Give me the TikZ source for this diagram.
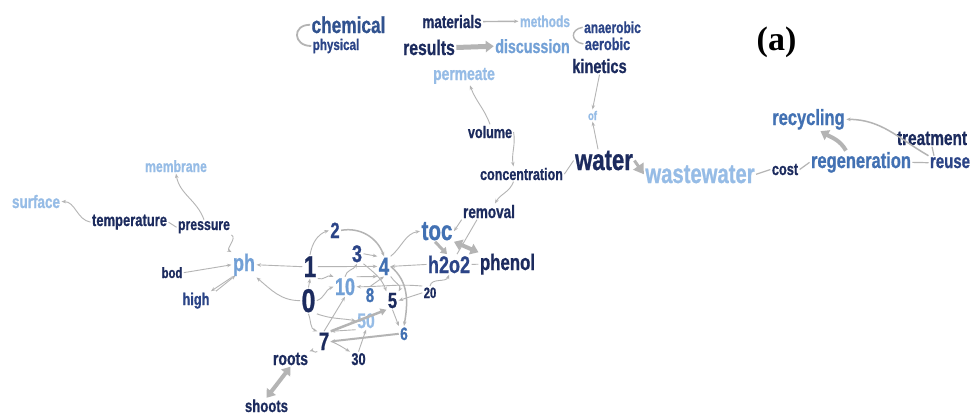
\documentclass[tikz,border=0pt]{standalone}
\usepackage{fontspec}
\usetikzlibrary{arrows.meta}
\newfontfamily\wf{Liberation Sans}[FakeStretch=0.75,FakeBold=0.8]
\newfontfamily\lab{Liberation Serif}
\newcommand{\fs}[1]{\fontsize{#1}{#1}\selectfont}
\definecolor{navy}{HTML}{1C2B5E}
\definecolor{dblue}{HTML}{2B4487}
\definecolor{cblue}{HTML}{30528F}
\definecolor{mblue}{HTML}{4271B3}
\definecolor{lmblue}{HTML}{72A0D6}
\definecolor{lblue}{HTML}{96BCE6}
\definecolor{eg}{HTML}{B4B4B4}
\tikzset{
  w/.style={inner sep=0pt, outer sep=1.5pt, anchor=base, font=\wf\bfseries},
  ed/.style={draw=eg, line width=0.9pt, -{Stealth[length=4.5pt,width=3.5pt]}},
  ln/.style={draw=eg, line width=0.9pt},
  thk/.style={draw=eg, line width=4pt, -{Triangle[length=8pt,width=11pt]}},
  both/.style={{Triangle[length=8pt,width=11pt]}-{Triangle[length=8pt,width=11pt]}}
}
\begin{document}
\begin{tikzpicture}[x=1pt,y=-1pt]
\fill[white] (0,0) rectangle (973,418);
\useasboundingbox (0,0) rectangle (973,418);
% top
\node[w,cblue] (chemical) at (348.5,33) {\fs{23}chemical};
\node[w,dblue] (physical) at (336,50) {\fs{15.5}physical};
\node[w,navy] (materials) at (452,28) {\fs{18}materials};
\node[w,lblue] (methods) at (545,27) {\fs{16}methods};
\node[w,navy] (results) at (429,55) {\fs{21}results};
\node[w,lmblue] (discussion) at (532.5,53) {\fs{19}discussion};
\node[w,dblue] (anaerobic) at (612.5,33) {\fs{16}anaerobic};
\node[w,dblue] (aerobic) at (607.5,50) {\fs{17}aerobic};
\node[w,navy] (kinetics) at (599.5,73) {\fs{19.5}kinetics};
\node[w,lblue] (of) at (592.5,120) {\fs{12.5}of};
\node[w,lblue] (permeate) at (464,80) {\fs{18.5}permeate};
\node[w,navy] (volume) at (490,138) {\fs{16.8}volume};
\node[w,navy] (concentration) at (521.5,180) {\fs{16.7}concentration};
\node[w,navy] (water) at (604,170) {\fs{29.5}water};
\node[w,lblue] (wastewater) at (700,183) {\fs{27}wastewater};
\node[w,navy] (cost) at (785,175) {\fs{17}cost};
\node[w,mblue] (regeneration) at (861,168) {\fs{22}regeneration};
\node[w,mblue] (recycling) at (808.5,125) {\fs{22}recycling};
\node[w,navy] (treatment) at (932,145) {\fs{20.5}treatment};
\node[w,dblue] (reuse) at (950,168) {\fs{20}reuse};
\node[w,navy] (removal) at (489,218) {\fs{18}removal};
\node[w,mblue] (toc) at (437,240) {\fs{27.5}toc};
\node[w,dblue] (h2o2) at (449,273) {\fs{24}h2o2};
\node[w,navy] (phenol) at (507.5,270) {\fs{22.4}phenol};
% left
\node[w,lblue] (membrane) at (176,172) {\fs{16.3}membrane};
\node[w,lblue] (surface) at (36,208) {\fs{18}surface};
\node[w,navy] (temperature) at (129.5,226) {\fs{17.3}temperature};
\node[w,navy] (pressure) at (204,230) {\fs{16.4}pressure};
\node[w,lmblue] (ph) at (244,271) {\fs{24}ph};
\node[w,navy] (bod) at (172,278) {\fs{15}bod};
\node[w,dblue] (high) at (196,305) {\fs{17}high};
% numbers
\node[w,navy] (n1) at (310,277) {\fs{30}1};
\node[w,navy] (n0) at (308.5,312) {\fs{33}0};
\node[w,dblue] (n2) at (335,238) {\fs{22}2};
\node[w,dblue] (n3) at (357,262) {\fs{24}3};
\node[w,mblue] (n4) at (384,275) {\fs{25}4};
\node[w,lmblue] (n10) at (345,295) {\fs{24}10};
\node[w,mblue] (n8) at (370,302) {\fs{20}8};
\node[w,navy] (n5) at (392.5,308) {\fs{22}5};
\node[w,navy] (n20) at (430,298) {\fs{15}20};
\node[w,lblue] (n50) at (366,328) {\fs{21}50};
\node[w,mblue] (n6) at (404,340) {\fs{18}6};
\node[w,navy] (n7) at (324,350) {\fs{25}7};
\node[w,navy] (n30) at (358.5,365) {\fs{17}30};
\node[w,navy] (roots) at (290.5,365) {\fs{18.7}roots};
\node[w,navy] (shoots) at (266.5,412) {\fs{17.5}shoots};
\node[inner sep=0pt, anchor=base, font=\lab\bfseries\fs{34}] (lbl) at (776.5,50) {(a)};
% edges top
\draw[ln, line width=1.8pt] (physical.west) to[out=180,in=180,looseness=2.2] (chemical.west);
\draw[ed, line width=1.4pt] (materials.east) -- (methods.west);
\draw[thk, line width=5pt] (results.east) -- (discussion.west);
\draw[ln, line width=1.4pt] (anaerobic.west) to[out=190,in=170,looseness=2] (aerobic.west);
\draw[ed] (kinetics.south) -- (of.north);
\draw[ed] ([xshift=-6]water.north) -- (of.south);
\draw[ed] (volume.north) to[out=110,in=-70] ([xshift=6]permeate.south);
\draw[ed] (volume.east) to[out=-80,in=100] ([xshift=-8]concentration.north);
\draw[ln] (concentration.east) -- (water.west);
\draw[thk, line width=3pt, -{Triangle[length=10pt,width=12pt]}] (water.east) -- (wastewater.west);
\draw[ln, line width=1.2pt] (wastewater.east) -- (cost.west);
\draw[ln, line width=1.2pt] (cost.east) -- (regeneration.west);
\draw[ln, line width=1.2pt] (regeneration.east) -- (reuse.west);
\draw[thk] ([xshift=-15]regeneration.north) to[out=120,in=-30] ([xshift=12]recycling.south);
\draw[ed, line width=1.5pt] (reuse.north west) to[out=150,in=0] (recycling.east);
\draw[ln, line width=1.2pt] (treatment.south) -- ([xshift=-16]reuse.north);
\draw[ed] ([xshift=-8]concentration.south) to[out=-110,in=60] ([xshift=6]removal.north);
\draw[ed] (removal.south west) -- (toc.east);
\draw[ln] ([xshift=-12]removal.south) -- ([xshift=8]h2o2.north);
\draw[thk, both] (toc.south east) -- (phenol.north west);
\draw[thk, line width=3pt, -{Triangle[length=6pt,width=8pt]}] ([xshift=-2]toc.south) -- ([xshift=-2]h2o2.north);
\draw[ed] (h2o2.west) -- (n4.east);
\draw[ed] (n4.north east) to[out=40,in=190] (toc.west);
\draw[ln] (h2o2.east) -- (phenol.west);
\draw[ed] (n20.north) to[out=80,in=-110] (h2o2.south);
\draw[ed] (n20.west) -- (n5.east);
\draw[ed] (n20.north west) to[out=175,in=0] (n10.east);
% numbers edges
\draw[ed] (n1.west) -- (ph.east);
\draw[ed] (n0.west) to[out=180,in=-40] (ph.south east);
\draw[ed] (n0.north) -- (n1.south);
\draw[ed] (n1.north) to[out=80,in=200] (n2.west);
\draw[ed, line width=1.5pt] (n2.east) to[out=10,in=110] (n4.north);
\draw[ed] (n3.east) -- (n4.north west);
\draw[ed] (n1.east) -- (n4.west);
\draw[ed] (n10.north) to[out=80,in=-120] (n3.south);
\draw[ed] (n0.east) to[out=20,in=200] (n10.west);
\draw[ed] (n1.south east) to[out=-20,in=160] (n10.north west);
\draw[ed] (n10.north east) -- (n4.south west);
\draw[ed] (n8.north) -- (n4.south);
\draw[ed] (n4.south east) to[out=-60,in=60] (n5.north east);
\draw[ed, line width=1.5pt] (n4.east) to[out=-40,in=80] (n6.north);
\draw[ed] (n5.south) -- (n6.north west);
\draw[ed] (n0.south) to[out=-70,in=160] (n7.north west);
\draw[ed] (n0.south east) to[out=-20,in=170] (n50.west);
\draw[thk, line width=2.5pt, -{Triangle[length=6pt,width=7pt]}] (n7.north east) -- (n5.south west);
\draw[ed, line width=2pt] (n6.west) -- (n7.east);
\draw[ed] (n50.south west) -- (n7.north east);
\draw[ed] (n7.south west) to[out=-140,in=20] (roots.north east);
\draw[ed] (n7.east) to[out=-20,in=150] (n30.north west);
\draw[ed] (n30.north) -- (n50.south);
\draw[thk, both] (roots.south) -- (shoots.north);
\draw[ed] (n7.north) -- (n10.south);
\draw[ed] (n3.south east) to[out=-40,in=110] (n5.north west);
% left edges
\draw[ed] (temperature.west) to[out=170,in=0] (surface.east);
\draw[ln] (temperature.east) -- (pressure.west);
\draw[ed] (pressure.north) to[out=110,in=-80] (membrane.south);
\draw[ed] (pressure.south east) to[out=-30,in=150] (ph.north west);
\draw[ed] (bod.east) -- (ph.west);
\draw[ed] (ph.south west) -- (high.north east);
\draw[ed] ([xshift=5]high.north east) -- ([xshift=4,yshift=2]ph.south west);
\end{tikzpicture}
\end{document}
